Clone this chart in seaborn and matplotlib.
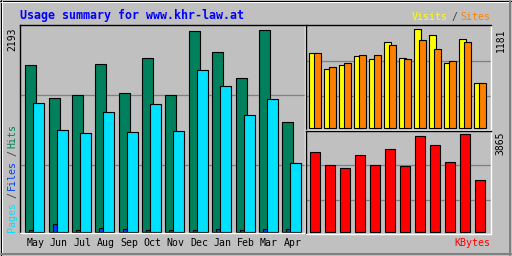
import numpy as np
import pandas as pd
import matplotlib
matplotlib.use("Agg")
import matplotlib.pyplot as plt
import seaborn as sns

# ---------------- data ----------------
months = ["May", "Jun", "Jul", "Aug", "Sep", "Oct", "Nov", "Dec", "Jan", "Feb", "Mar", "Apr"]
hits = [1805, 1450, 1482, 1816, 1504, 1881, 1482, 2182, 1956, 1665, 2193, 1192]
files = [20, 94, 20, 50, 40, 29, 29, 29, 40, 20, 40, 40]
pages = [1396, 1106, 1073, 1300, 1084, 1386, 1095, 1752, 1579, 1267, 1439, 750]
visits = [893, 701, 749, 857, 821, 1025, 833, 1181, 1109, 773, 1061, 533]
sites = [893, 725, 773, 869, 869, 989, 821, 1049, 941, 797, 1025, 533]
kbytes = [3155, 2642, 2524, 3037, 2642, 3273, 2603, 3786, 3431, 2761, 3865, 2051]

title = "Usage summary for www.khr-law.at"

GREY = "#C0C0C0"
DKGREY = "#808080"
C_HITS = "#00805C"
C_FILES = "#0040FF"
C_PAGES = "#00E0FF"
C_VISITS = "#FFFF00"
C_SITES = "#FF8000"
C_KB = "#FF0000"

sns.set_theme(style="white")
plt.rcParams["font.family"] = ["DejaVu Sans Mono", "DejaVu Sans"]

W, H = 512, 256
fig = plt.figure(figsize=(W / 100, H / 100), dpi=100, facecolor=GREY)

def fx(x):
    return x / W

def fy(y):
    return 1 - y / H

def px_axes(x0, y0, x1, y1):
    return fig.add_axes([fx(x0), fy(y1), (x1 - x0) / W, (y1 - y0) / H])

# background frame axes
bg = fig.add_axes([0, 0, 1, 1], zorder=-5)
bg.set_xlim(0, W)
bg.set_ylim(H, 0)
bg.axis("off")
bg.set_facecolor(GREY)
lw = 0.72
bg.plot([0, W], [0.5, 0.5], color="black", lw=lw)
bg.plot([0.5, 0.5], [0, H], color="black", lw=lw)
bg.plot([1, W - 2], [1.5, 1.5], color="white", lw=lw)
bg.plot([1.5, 1.5], [1, H - 2], color="white", lw=lw)
bg.plot([W - 0.5, W - 0.5], [0, H], color="black", lw=lw)
bg.plot([0, W], [H - 0.5, H - 0.5], color="black", lw=lw)
bg.plot([W - 2.0, W - 2.0], [1, H - 1], color=DKGREY, lw=1.44)
bg.plot([1, W - 1], [H - 2.0, H - 2.0], color=DKGREY, lw=1.44)

def style_panel(ax):
    ax.set_facecolor(GREY)
    for s in ["top", "left"]:
        ax.spines[s].set_color("black")
        ax.spines[s].set_linewidth(1.0)
    for s in ["bottom", "right"]:
        ax.spines[s].set_color("white")
        ax.spines[s].set_linewidth(1.0)
    ax.set_axisbelow(True)
    ax.yaxis.grid(True, color=DKGREY, linewidth=0.9)
    ax.xaxis.grid(False)
    ax.tick_params(axis="y", left=False, labelleft=False, length=0)
    ax.set_xlabel("")
    ax.set_ylabel("")

idx = np.arange(len(months))

# ---------------- main panel ----------------
ax = px_axes(20, 24.7, 304.5, 233.3)
sp = 23.36
g_left = 5.3 / sp
bw = 11 / sp
sns.barplot(x=idx + g_left + bw / 2, y=hits, native_scale=True, width=bw, color=C_HITS,
            saturation=1, edgecolor="black", linewidth=0.8, errorbar=None, ax=ax)
sns.barplot(x=idx + g_left + 6.15 / sp, y=files, native_scale=True, width=4.3 / sp, color=C_FILES,
            saturation=1, edgecolor="black", linewidth=0.8, errorbar=None, ax=ax)
sns.barplot(x=idx + g_left + 13.5 / sp, y=pages, native_scale=True, width=bw, color=C_PAGES,
            saturation=1, edgecolor="black", linewidth=0.8, errorbar=None, ax=ax)
ax.set_xlim(0, 284.5 / sp)
ax.set_ylim(-11, 2246)
style_panel(ax)
ax.set_yticks([728, 1482])
ax.set_xticks(idx + g_left + 10.2 / sp)
ax.set_xticklabels(months, fontsize=7.1, color="black")
ax.tick_params(axis="x", length=0, pad=3.5, bottom=False)

# ---------------- top-right panel ----------------
ax2 = px_axes(305.5, 24.7, 491, 130)
sp2 = 15.0
y_left = 3.8 / sp2
w2 = 7 / sp2
sns.barplot(x=idx + y_left + w2 / 2, y=visits, native_scale=True, width=w2, color=C_VISITS,
            saturation=1, edgecolor="black", linewidth=0.8, errorbar=None, ax=ax2)
sns.barplot(x=idx + y_left + 4.4 / sp2 + w2 / 2, y=sites, native_scale=True, width=w2, color=C_SITES,
            saturation=1, edgecolor="black", linewidth=0.8, errorbar=None, ax=ax2)
ax2.set_xlim(0, 185.5 / sp2)
ax2.set_ylim(-28, 1237)
style_panel(ax2)
ax2.set_yticks([384, 805])
ax2.set_xticks([])

# ---------------- bottom-right panel ----------------
ax3 = px_axes(305.5, 130.5, 491, 234)
r_left = 4.8 / sp2
w3 = 9.3 / sp2
sns.barplot(x=idx + r_left + w3 / 2, y=kbytes, native_scale=True, width=w3, color=C_KB,
            saturation=1, edgecolor="black", linewidth=0.8, errorbar=None, ax=ax3)
ax3.set_xlim(0, 185.5 / sp2)
ax3.set_ylim(-67, 4015)
style_panel(ax3)
ax3.set_yticks([1262, 2642])
ax3.set_xticks([])

# ---------------- texts ----------------
fig.text(fx(19.5), fy(19.3), title, color="#0000FF", fontsize=8.4, fontweight="bold",
         ha="left", va="baseline")
fs = 7.2
fig.text(fx(411.5), fy(20), "Visits", color=C_VISITS, fontsize=fs, ha="left", va="baseline")
fig.text(fx(454.5), fy(20), "/", color="#404040", fontsize=fs, ha="center", va="baseline")
fig.text(fx(490.5), fy(20), "Sites", color=C_SITES, fontsize=fs, ha="right", va="baseline")

fig.text(fx(12.8), fy(27.3), f"{max(hits)}", rotation=90, fontsize=7.0, color="black",
         ha="center", va="top")
fig.text(fx(500.7), fy(28.3), f"{max(visits)}", rotation=90, fontsize=7.0, color="black",
         ha="center", va="top")
fig.text(fx(500.7), fy(131.7), f"{max(kbytes)}", rotation=90, fontsize=7.0, color="black",
         ha="center", va="top")

lx = fx(12.3)
fig.text(lx, fy(232.5), "Pages", rotation=90, fontsize=fs, color=C_PAGES, ha="center", va="bottom")
fig.text(lx, fy(195), "/", rotation=90, fontsize=fs, color="#404040", ha="center", va="center")
fig.text(lx, fy(190.5), "Files", rotation=90, fontsize=fs, color=C_FILES, ha="center", va="bottom")
fig.text(lx, fy(153.5), "/", rotation=90, fontsize=fs, color="#404040", ha="center", va="center")
fig.text(lx, fy(148.5), "Hits", rotation=90, fontsize=fs, color=C_HITS, ha="center", va="bottom")

fig.text(fx(490.5), fy(243), "KBytes", color=C_KB, fontsize=fs, ha="right", va="center")

fig.savefig("out.png", dpi=100, facecolor=GREY)
